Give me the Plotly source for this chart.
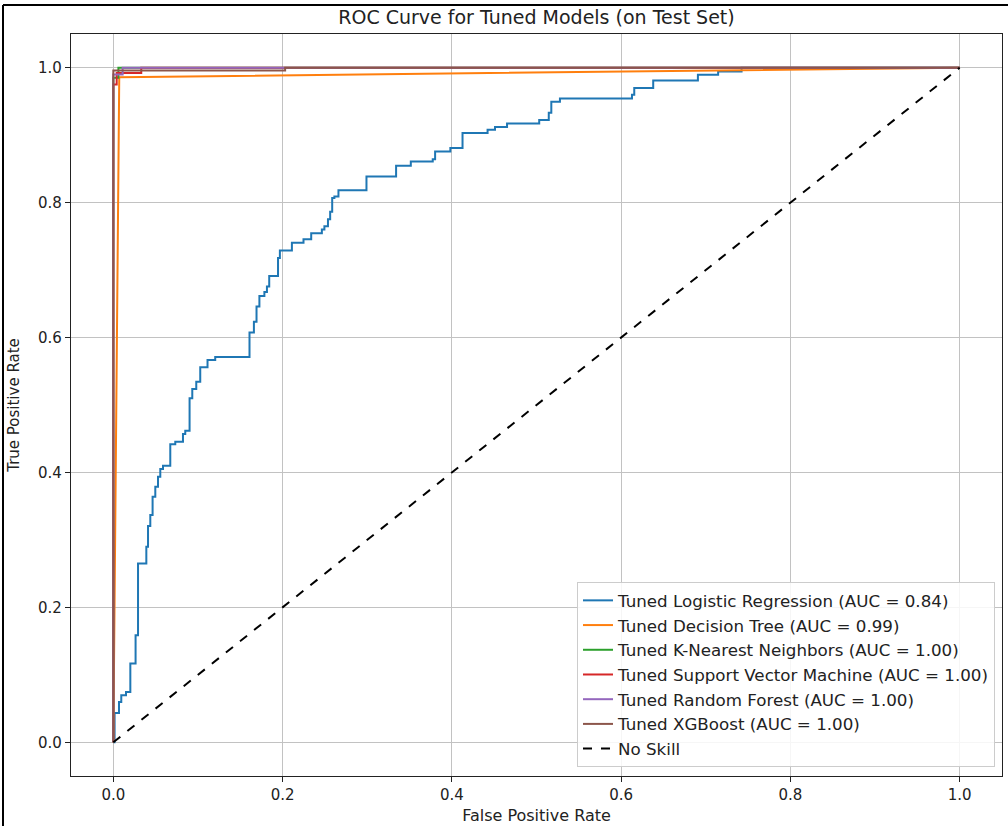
import plotly.graph_objects as go

# ---------------- data ----------------
lr_fpr = [0.0, 0.0015, 0.0067, 0.0094, 0.0150, 0.0201, 0.0263, 0.0292, 0.0390, 0.0410,
          0.0437, 0.0464, 0.0496, 0.0528, 0.0555, 0.0587, 0.0673, 0.0732, 0.0823, 0.0850,
          0.0901, 0.0933, 0.0980, 0.1027, 0.1113, 0.1204, 0.1609, 0.1661, 0.1692, 0.1726,
          0.1785, 0.1815, 0.1842, 0.1946, 0.1968, 0.2110, 0.2247, 0.2338, 0.2464, 0.2494,
          0.2536, 0.2562, 0.2586, 0.2612, 0.2660, 0.2991, 0.3341, 0.3515, 0.3774, 0.3802,
          0.3982, 0.4126, 0.4422, 0.4510, 0.4652, 0.5032, 0.5145, 0.5175, 0.5277, 0.6128,
          0.6155, 0.6379, 0.6907, 0.7146, 0.7423, 1.0]
lr_tpr = [0.0, 0.0435, 0.0598, 0.0697, 0.0746, 0.1168, 0.1588, 0.2651, 0.2898, 0.3205,
          0.3368, 0.3640, 0.3788, 0.3936, 0.4050, 0.4099, 0.4417, 0.4455, 0.4570, 0.4619,
          0.5099, 0.5237, 0.5346, 0.5559, 0.5668, 0.5712, 0.6073, 0.6236, 0.6459, 0.6617,
          0.6677, 0.6755, 0.6914, 0.7181, 0.7292, 0.7404, 0.7458, 0.7547, 0.7601, 0.7651,
          0.7755, 0.7864, 0.8067, 0.8091, 0.8182, 0.8387, 0.8546, 0.8610, 0.8645, 0.8758,
          0.8809, 0.9031, 0.9080, 0.9120, 0.9174, 0.9224, 0.9332, 0.9496, 0.9543, 0.9599,
          0.9699, 0.9812, 0.9896, 0.9945, 1.0, 1.0]

dt_fpr = [0.0, 0.007, 1.0]
dt_tpr = [0.0, 0.986, 1.0]

knn_fpr = [0.0, 0.0, 0.006, 0.006, 1.0]
knn_tpr = [0.0, 0.985, 0.985, 1.0, 1.0]

svm_fpr = [0.0, 0.0, 0.004, 0.004, 0.033, 0.033, 1.0]
svm_tpr = [0.0, 0.975, 0.975, 0.992, 0.992, 1.0, 1.0]

rf_fpr = [0.0, 0.0, 0.011, 0.011, 1.0]
rf_tpr = [0.0, 0.99, 0.99, 1.0, 1.0]

xgb_fpr = [0.0, 0.0, 0.203, 0.203, 1.0]
xgb_tpr = [0.0, 0.996, 0.996, 1.0, 1.0]

skill_x = [0.0, 1.0]
skill_y = [0.0, 1.0]

names = ["Tuned Logistic Regression (AUC = 0.84)",
         "Tuned Decision Tree (AUC = 0.99)",
         "Tuned K-Nearest Neighbors (AUC = 1.00)",
         "Tuned Support Vector Machine (AUC = 1.00)",
         "Tuned Random Forest (AUC = 1.00)",
         "Tuned XGBoost (AUC = 1.00)",
         "No Skill"]
colors = ["#1f77b4", "#ff7f0e", "#2ca02c", "#d62728", "#9467bd", "#8c564b", "black"]
ticks = [0.0, 0.2, 0.4, 0.6, 0.8, 1.0]
tick_text = ["0.0", "0.2", "0.4", "0.6", "0.8", "1.0"]

# ---------------- figure ----------------
fig = go.Figure()
series = [(lr_fpr, lr_tpr, "hv"), (dt_fpr, dt_tpr, "linear"), (knn_fpr, knn_tpr, "linear"),
          (svm_fpr, svm_tpr, "linear"), (rf_fpr, rf_tpr, "linear"), (xgb_fpr, xgb_tpr, "linear")]
for (xs, ys, shape), name, col in zip(series, names[:6], colors[:6]):
    fig.add_trace(go.Scatter(x=xs, y=ys, mode="lines", name=name,
                             line=dict(color=col, width=2, shape=shape)))
fig.add_trace(go.Scatter(x=skill_x, y=skill_y, mode="lines", name=names[6],
                         line=dict(color="black", width=2, dash="dash")))

W, H = 1008, 826
ml, mr, mt, mb = 71, 6, 34, 50
pw, ph = W - ml - mr, H - mt - mb

axis_common = dict(showgrid=True, gridcolor="#c2c2c2", gridwidth=1.2,
                   showline=True, linecolor="#222", linewidth=1.2, mirror=True,
                   ticks="outside", ticklen=5, tickcolor="#222", zeroline=False,
                   tickfont=dict(size=15, color="#222"), tickvals=ticks, ticktext=tick_text)

fig.update_layout(
    width=W, height=H,
    margin=dict(l=ml, r=mr, t=mt, b=mb),
    paper_bgcolor="white", plot_bgcolor="white",
    font=dict(family="DejaVu Sans", color="#222"),
    title=dict(text="ROC Curve for Tuned Models (on Test Set)", x=(ml + pw / 2) / W,
               xanchor="center", y=1 - 17 / H, yanchor="middle", font=dict(size=19)),
    xaxis=dict(range=[-0.05, 1.05], title=dict(text="False Positive Rate", font=dict(size=16), standoff=6),
               **axis_common),
    yaxis=dict(range=[-0.05, 1.05], title=dict(text="True Positive Rate", font=dict(size=15), standoff=14),
               **axis_common),
    legend=dict(x=(995 - ml) / pw, xanchor="right", y=(H - mb - 767) / ph, yanchor="bottom",
                bgcolor="rgba(255,255,255,0.85)", bordercolor="#cccccc", borderwidth=1,
                font=dict(size=16.7, color="#222")),
    showlegend=True,
)

# screenshot frame (black border at top/left)
fig.add_shape(type="line", xref="paper", yref="paper",
              x0=(3 - ml) / pw, x1=(3 - ml) / pw, y0=-mb / ph - 0.01, y1=1 + (mt - 5) / ph,
              line=dict(color="black", width=2))
fig.add_shape(type="line", xref="paper", yref="paper",
              x0=(3 - ml) / pw, x1=1 + mr / pw + 0.01, y0=1 + (mt - 5) / ph, y1=1 + (mt - 5) / ph,
              line=dict(color="black", width=2))

fig.write_html("out.html")
